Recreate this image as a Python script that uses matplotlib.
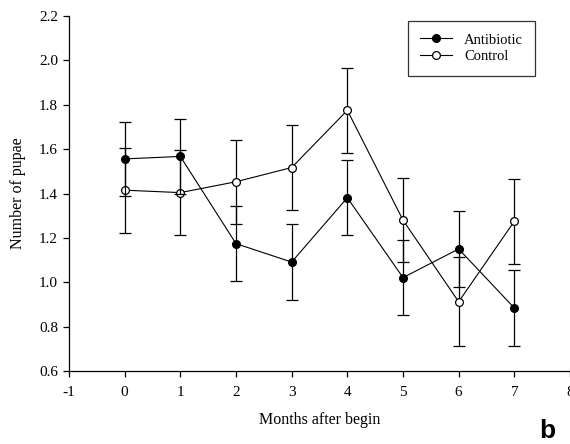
import matplotlib
matplotlib.use("Agg")
import matplotlib.pyplot as plt
from matplotlib.lines import Line2D

months = [0, 1, 2, 3, 4, 5, 6, 7]
antibiotic = [1.556, 1.567, 1.174, 1.091, 1.381, 1.021, 1.150, 0.884]
antibiotic_err = [0.168, 0.168, 0.170, 0.170, 0.170, 0.170, 0.170, 0.170]
control = [1.415, 1.404, 1.453, 1.517, 1.775, 1.280, 0.912, 1.275]
control_err = [0.192, 0.192, 0.190, 0.192, 0.192, 0.190, 0.200, 0.192]
series_names = ['Antibiotic', 'Control']

plt.rcParams['font.family'] = ['Liberation Serif', 'DejaVu Serif']
plt.rcParams['axes.unicode_minus'] = False

fig = plt.figure(figsize=(5.70, 4.44), dpi=100)
ax = fig.add_axes([69/570, 73/444, 1 - 69/570, (371-16)/444])

MS = 5.6
ax.errorbar(months, control, yerr=control_err, color='black', lw=0.8,
            marker='o', ms=MS, mfc='white', mec='black', mew=0.9,
            capsize=4.4, capthick=0.9, elinewidth=0.9, zorder=3)
ax.errorbar(months, antibiotic, yerr=antibiotic_err, color='black', lw=0.8,
            marker='o', ms=MS, mfc='black', mec='black', mew=0.9,
            capsize=4.4, capthick=0.9, elinewidth=0.9, zorder=4)

ax.set_xlim(-1, 8)
ax.set_ylim(0.6, 2.2)
ax.set_xticks(range(-1, 9))
ax.set_yticks([0.6, 0.8, 1.0, 1.2, 1.4, 1.6, 1.8, 2.0, 2.2])
ax.set_yticklabels(['0.6', '0.8', '1.0', '1.2', '1.4', '1.6', '1.8', '2.0', '2.2'])
ax.spines['top'].set_visible(False)
ax.spines['right'].set_visible(False)
for s in ('left', 'bottom'):
    ax.spines[s].set_linewidth(0.9)
ax.tick_params(direction='out', length=4, width=0.9, labelsize=11)
ax.tick_params(axis='x', pad=7)
ax.tick_params(axis='y', pad=4)
ax.patch.set_alpha(0)

ax.set_xlabel('Months after begin', fontsize=11.5, labelpad=9)
ax.set_ylabel('Number of pupae', fontsize=11.5, labelpad=9)

handles = [
    Line2D([], [], color='black', lw=0.8, marker='o', ms=MS, mfc='black', mec='black', mew=0.9),
    Line2D([], [], color='black', lw=0.8, marker='o', ms=MS, mfc='white', mec='black', mew=0.9),
]
leg = ax.legend(handles, series_names, loc='upper left',
                bbox_to_anchor=((408-69)/501, (371-21)/355), fontsize=10.5,
                frameon=True, fancybox=False, edgecolor='black',
                handlelength=2.2, borderpad=0.85, labelspacing=0.25,
                handletextpad=0.8, borderaxespad=0)
leg.get_frame().set_linewidth(0.9)

fig.text(547/570, 1 - 431/444, 'b', fontsize=19, fontweight='bold',
         family=['Liberation Sans', 'DejaVu Sans'], ha='center', va='center')

fig.savefig('out.png', dpi=100)
